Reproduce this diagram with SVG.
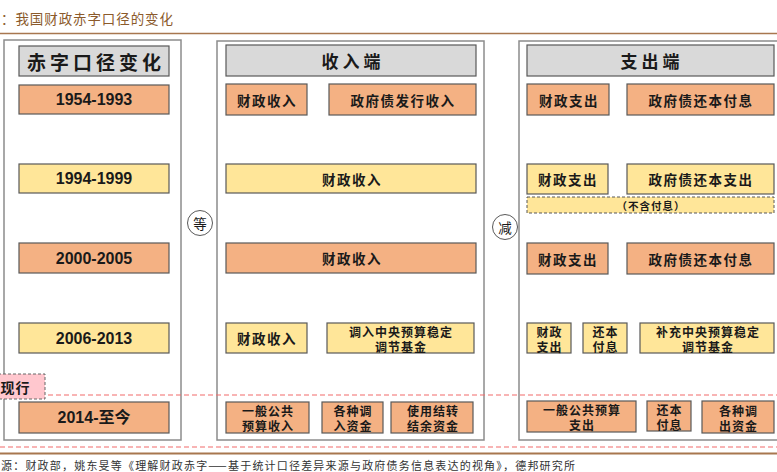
<svg xmlns="http://www.w3.org/2000/svg" width="777" height="472" viewBox="0 0 777 472">
<style>
.panel{fill:#fff;stroke:#8c8c8c;stroke-width:1.5}
.hdr{fill:#d9d9d9;stroke:#595959;stroke-width:1.2}
.or{fill:#f4b183;stroke:#595959;stroke-width:1.2}
.ye{fill:#ffe699;stroke:#595959;stroke-width:1.2}
.yd{fill:#ffe699;stroke:#595959;stroke-width:1;stroke-dasharray:3 2}
.t{font-family:"Noto Sans CJK SC",sans-serif;font-size:13.5px;font-weight:700;fill:#1a1a1a;text-anchor:middle;dominant-baseline:central;letter-spacing:1.5px}
.w{font-size:12px;letter-spacing:1px}
.s{font-size:10.5px;letter-spacing:1px}
.h{font-size:17px;letter-spacing:4px}
.y{font-family:"Liberation Sans","Noto Sans CJK SC",sans-serif;font-size:16px;font-weight:700;letter-spacing:0}
.red{stroke:#f26b6b;stroke-width:1.2;stroke-dasharray:5 3;fill:none}
.op{fill:#fff;stroke:#595959;stroke-width:1}
</style>
<rect width="777" height="472" fill="#fff"/>
<text x="1" y="18" font-family="Noto Sans CJK SC,sans-serif" font-size="13.5" fill="#8b5a2b" dominant-baseline="central" textLength="172" lengthAdjust="spacing">：我国财政赤字口径的变化</text>
<line x1="0" y1="33.5" x2="777" y2="33.5" stroke="#a8774f" stroke-width="1.5"/>

<g id="panel-left">
<rect class="panel" x="4" y="40" width="177" height="400"/>
<g id="hdr-left"><rect class="hdr" x="19" y="46" width="150" height="30"/><text class="t h" x="96" y="61" style="font-size:19px">赤字口径变化</text></g>
<g id="y1954"><rect class="or" x="19" y="85" width="150" height="29"/><text class="t y" x="94" y="99.5">1954-1993</text></g>
<g id="y1994"><rect class="ye" x="19" y="164" width="150" height="29"/><text class="t y" x="94" y="178.5">1994-1999</text></g>
<g id="y2000"><rect class="or" x="19" y="243" width="150" height="30"/><text class="t y" x="94" y="258">2000-2005</text></g>
<g id="y2006"><rect class="ye" x="19" y="323" width="150" height="30"/><text class="t y" x="94" y="338">2006-2013</text></g>
<g id="y2014"><rect class="or" x="19" y="402" width="150" height="31"/><text class="t y" x="94" y="417.5">2014-至今</text></g>
</g>

<g id="panel-mid">
<rect class="panel" x="217" y="41" width="267" height="399"/>
<g id="hdr-mid"><rect class="hdr" x="226" y="45" width="250" height="31"/><text class="t h" x="353" y="60.5">收入端</text></g>
<g id="m1a"><rect class="or" x="226" y="84" width="81" height="31"/><text class="t" x="267" y="99.5">财政收入</text></g>
<g id="m1b"><rect class="or" x="329" y="84" width="147" height="31"/><text class="t" x="403" y="99.5">政府债发行收入</text></g>
<g id="m2"><rect class="ye" x="226" y="164" width="250" height="29"/><text class="t" x="352" y="178.5">财政收入</text></g>
<g id="m3"><rect class="or" x="226" y="243" width="250" height="30"/><text class="t" x="352" y="258">财政收入</text></g>
<g id="m4a"><rect class="ye" x="226" y="323" width="81" height="30"/><text class="t" x="267" y="338">财政收入</text></g>
<g id="m4b"><rect class="ye" x="327" y="323" width="147" height="30"/><text class="t w" x="401" y="331">调入中央预算稳定</text><text class="t w" x="401" y="346">调节基金</text></g>
<g id="m5a"><rect class="or" x="226" y="402" width="83" height="31"/><text class="t w" x="268" y="410">一般公共</text><text class="t w" x="268" y="425">预算收入</text></g>
<g id="m5b"><rect class="or" x="322" y="402" width="61" height="31"/><text class="t w" x="353" y="410">各种调</text><text class="t w" x="353" y="425">入资金</text></g>
<g id="m5c"><rect class="or" x="391" y="402" width="82" height="31"/><text class="t w" x="433" y="410">使用结转</text><text class="t w" x="433" y="425">结余资金</text></g>
</g>

<g id="panel-right">
<rect class="panel" x="519" y="41" width="270" height="399"/>
<g id="hdr-right"><rect class="hdr" x="527" y="45" width="247" height="31"/><text class="t h" x="652" y="60.5">支出端</text></g>
<g id="r1a"><rect class="or" x="527" y="84" width="82" height="31"/><text class="t" x="569" y="99.5">财政支出</text></g>
<g id="r1b"><rect class="or" x="627" y="84" width="147" height="31"/><text class="t" x="701" y="99.5">政府债还本付息</text></g>
<g id="r2a"><rect class="ye" x="527" y="164" width="81" height="30"/><text class="t" x="568" y="179">财政支出</text></g>
<g id="r2b"><rect class="ye" x="627" y="164" width="147" height="30"/><text class="t" x="701" y="179">政府债还本支出</text></g>
<g id="r2c"><rect class="yd" x="527" y="197" width="247" height="16"/><text class="t s" x="651" y="205">（不含付息）</text></g>
<g id="r3a"><rect class="or" x="527" y="243" width="81" height="31"/><text class="t" x="568" y="258.5">财政支出</text></g>
<g id="r3b"><rect class="or" x="627" y="243" width="147" height="31"/><text class="t" x="701" y="258.5">政府债还本付息</text></g>
<g id="r4a"><rect class="ye" x="527" y="323" width="44" height="30"/><text class="t w" x="549.5" y="331">财政</text><text class="t w" x="549.5" y="346">支出</text></g>
<g id="r4b"><rect class="ye" x="583" y="323" width="44" height="30"/><text class="t w" x="605.5" y="331">还本</text><text class="t w" x="605.5" y="346">付息</text></g>
<g id="r4c"><rect class="ye" x="640" y="323" width="134" height="30"/><text class="t w" x="708" y="331">补充中央预算稳定</text><text class="t w" x="708" y="346">调节基金</text></g>
<g id="r5a"><rect class="or" x="527" y="401" width="109" height="31"/><text class="t w" x="582" y="409">一般公共预算</text><text class="t w" x="582" y="424">支出</text></g>
<g id="r5b"><rect class="or" x="647" y="401" width="44" height="30"/><text class="t w" x="669.5" y="409">还本</text><text class="t w" x="669.5" y="424">付息</text></g>
<g id="r5c"><rect class="or" x="702" y="401" width="72" height="32"/><text class="t w" x="738.5" y="410">各种调</text><text class="t w" x="738.5" y="425">出资金</text></g>
</g>

<g id="op-equal"><circle class="op" cx="200" cy="223" r="12.5"/><text class="t" x="200" y="223" style="font-weight:400;letter-spacing:0">等</text></g>
<g id="op-minus"><circle class="op" cx="505" cy="227" r="12.5"/><text class="t" x="505" y="227" style="font-weight:400;letter-spacing:0">减</text></g>

<g id="connectors">
<line class="red" x1="0" y1="395" x2="777" y2="395"/>
<line class="red" x1="0" y1="447" x2="777" y2="447"/>
</g>

<g id="current">
<rect x="-12" y="374" width="57" height="25" fill="#ffc7ce" stroke="#666" stroke-width="1" stroke-dasharray="3 2"/>
<text class="t" x="15.5" y="386.5" style="font-size:14px;letter-spacing:1px">现行</text>
</g>

<line x1="0" y1="453.5" x2="777" y2="453.5" stroke="#a8774f" stroke-width="2"/>
<text x="1" y="464.5" font-family="Noto Sans CJK SC,sans-serif" font-size="11" fill="#333" dominant-baseline="central" textLength="574" lengthAdjust="spacing">源：财政部，姚东旻等《理解财政赤字——基于统计口径差异来源与政府债务信息表达的视角》，德邦研究所</text>
</svg>
